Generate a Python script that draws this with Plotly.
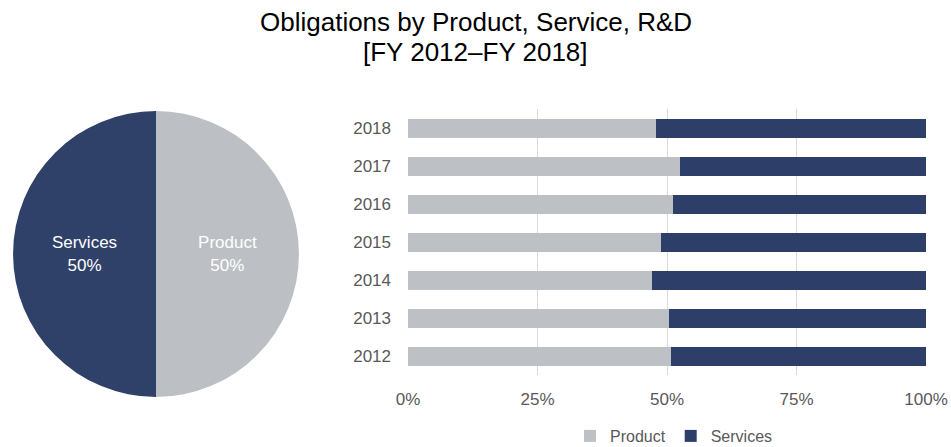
import plotly.graph_objects as go

years = ["2012", "2013", "2014", "2015", "2016", "2017", "2018"]
product_share = [0.507, 0.503, 0.471, 0.488, 0.512, 0.525, 0.479]
services_share = [round(1 - p, 3) for p in product_share]

pie_labels = ["Product", "Services"]
pie_values = [50, 50]

x_ticks = [0, 0.25, 0.5, 0.75, 1.0]
x_ticktext = ["0%", "25%", "50%", "75%", "100%"]

title_lines = ["Obligations by Product, Service, R&amp;D", "[FY 2012–FY 2018]"]

PRODUCT_COLOR = "#bdc1c5"
SERVICES_COLOR = "#2d3f69"
FONT = "Liberation Sans, Arial, sans-serif"
W, H = 951, 447

fig = go.Figure()

fig.add_trace(go.Pie(
    labels=pie_labels, values=pie_values, sort=False, direction="clockwise",
    rotation=0, marker=dict(colors=["#bcc0c4", "#2f4069"], line=dict(width=0)),
    textinfo="label+percent", textposition="inside", insidetextorientation="horizontal",
    textfont=dict(family=FONT, size=17, color="white"),
    domain=dict(x=[13 / W, 299 / W], y=[1 - 397 / H, 1 - 111 / H]),
    showlegend=False, hoverinfo="label+percent",
))

fig.add_trace(go.Bar(
    y=years, x=product_share, orientation="h", name="Product",
    marker=dict(color=PRODUCT_COLOR, line=dict(width=0)),
))
fig.add_trace(go.Bar(
    y=years, x=services_share, orientation="h", name="Services",
    marker=dict(color=SERVICES_COLOR, line=dict(width=0)),
))

fig.update_layout(
    width=W, height=H,
    margin=dict(l=0, r=0, t=0, b=0, autoexpand=False),
    paper_bgcolor="white", plot_bgcolor="white",
    barmode="stack", bargap=0.5,
    font=dict(family=FONT, color="#595959"),
    xaxis=dict(
        domain=[408 / W, 926 / W], range=[0, 1], tickvals=x_ticks, ticktext=x_ticktext,
        showgrid=True, gridcolor="#d9d9d9", gridwidth=1, zeroline=False, showline=False,
        tickfont=dict(size=17, color="#595959"), ticks="", ticklabelstandoff=12,
        automargin=False, fixedrange=True,
    ),
    yaxis=dict(
        domain=[1 - 375 / H, 1 - 109 / H], type="category", categoryorder="array",
        categoryarray=years, showgrid=False, zeroline=False, showline=False,
        tickfont=dict(size=17, color="#595959"), ticks="", ticklabelstandoff=16,
        automargin=False, fixedrange=True,
    ),
    legend=dict(
        orientation="h", x=674 / W, xanchor="center", y=1 - 436 / H, yanchor="middle",
        font=dict(size=16, color="#595959"), itemwidth=30, tracegroupgap=0,
        traceorder="normal",
    ),
    annotations=[
        dict(text=title_lines[0], x=0.5, xref="paper", y=1 - 22 / H, yref="paper",
             xanchor="center", yanchor="middle", showarrow=False,
             font=dict(size=26, color="#000000", family=FONT)),
        dict(text=title_lines[1], x=0.5, xref="paper", y=1 - 52 / H, yref="paper",
             xanchor="center", yanchor="middle", showarrow=False,
             font=dict(size=26, color="#000000", family=FONT)),
    ],
)

fig.write_html("out.html")
